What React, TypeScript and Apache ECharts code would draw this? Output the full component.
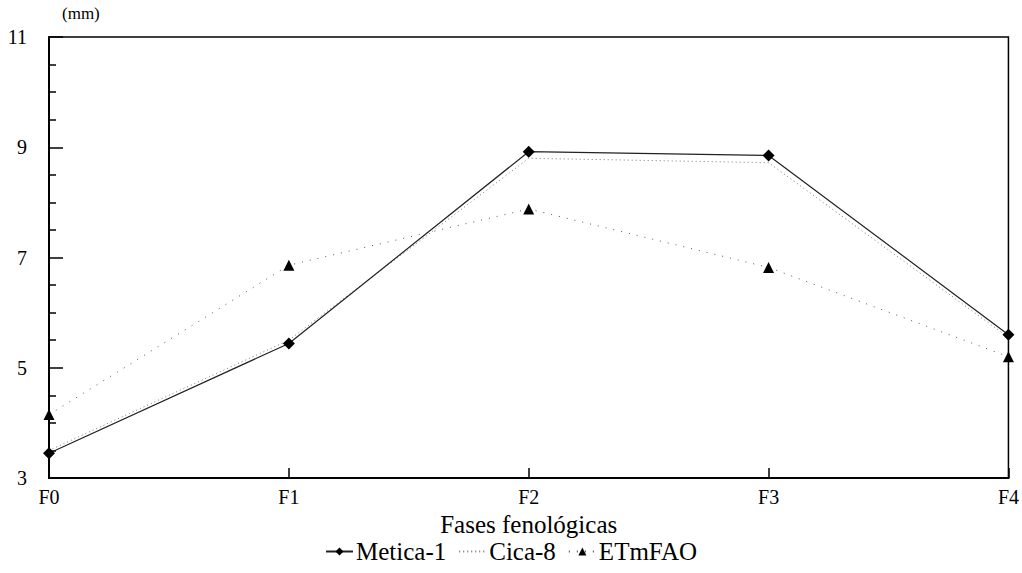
import React, { useEffect, useRef } from "react";
import * as echarts from "echarts";

const categories = ["F0", "F1", "F2", "F3", "F4"];
const metica1 = [3.45, 5.44, 8.92, 8.85, 5.6];
const cica8 = [3.5, 5.5, 8.8, 8.72, 5.55];
const etmFAO = [4.15, 6.86, 7.88, 6.82, 5.2];
const yTicks = { min: 3, max: 11, interval: 2 };

const FONT = '"Times New Roman", Times, "Liberation Serif", serif';

export default function App() {
  const ref = useRef<HTMLDivElement>(null);
  useEffect(() => {
    if (!ref.current) return;
    const chart = echarts.init(ref.current, null, { renderer: "svg" });
    chart.setOption({
      animation: false,
      backgroundColor: "#fff",
      textStyle: { fontFamily: FONT, color: "#000" },
      grid: {
        left: 49,
        right: 8,
        top: 37,
        bottom: 95,
        show: true,
        borderColor: "#000",
        borderWidth: 1.5,
        containLabel: false,
      },
      graphic: [
        {
          type: "text",
          left: 62,
          top: 5,
          style: { text: "(mm)", fontFamily: FONT, fontSize: 17, fill: "#000" },
        },
      ],
      legend: {
        bottom: 4,
        left: "center",
        itemWidth: 27,
        itemHeight: 10,
        itemGap: 12,
        textStyle: { fontFamily: FONT, fontSize: 25, color: "#000", padding: [0, 0, 0, -2] },
        data: [
          { name: "Metica-1" },
          { name: "Cica-8", itemStyle: { opacity: 0 } },
          { name: "ETmFAO" },
        ],
      },
      xAxis: {
        type: "category",
        data: categories,
        boundaryGap: false,
        name: "Fases fenológicas",
        nameLocation: "middle",
        nameGap: 31,
        nameTextStyle: { fontFamily: FONT, fontSize: 25, color: "#000" },
        axisLine: { lineStyle: { color: "#000", width: 2 } },
        axisTick: { inside: true, length: 10, lineStyle: { color: "#000", width: 1.5 } },
        axisLabel: { fontFamily: FONT, fontSize: 20, color: "#000", margin: 9 },
        splitLine: { show: false },
      },
      yAxis: {
        type: "value",
        min: yTicks.min,
        max: yTicks.max,
        interval: yTicks.interval,
        axisLine: { show: true, lineStyle: { color: "#000", width: 2 } },
        axisTick: { show: true, inside: true, length: 14, lineStyle: { color: "#000", width: 1.5 } },
        minorTick: { show: true, splitNumber: 4, length: 7, lineStyle: { color: "#000", width: 1.5 } },
        axisLabel: { fontFamily: FONT, fontSize: 20, color: "#000", margin: 22 },
        splitLine: { show: false },
        minorSplitLine: { show: false },
      },
      series: [
        {
          name: "Metica-1",
          type: "line",
          data: metica1,
          symbol: "diamond",
          symbolSize: 12,
          itemStyle: { color: "#000" },
          lineStyle: { color: "#222", width: 1.2 },
          z: 5,
        },
        {
          name: "Cica-8",
          type: "line",
          data: cica8,
          symbol: "none",
          itemStyle: { color: "#777" },
          lineStyle: { color: "#777", width: 1, type: [1, 3] },
          z: 4,
        },
        {
          name: "ETmFAO",
          type: "line",
          data: etmFAO,
          symbol: "triangle",
          symbolSize: 11,
          itemStyle: { color: "#000" },
          lineStyle: { color: "#555", width: 1, type: [1, 7] },
          z: 3,
        },
      ],
    });
    return () => chart.dispose();
  }, []);
  return <div ref={ref} style={{ width: 1022, height: 573, position: "absolute", left: 0, top: 0 }} />;
}
